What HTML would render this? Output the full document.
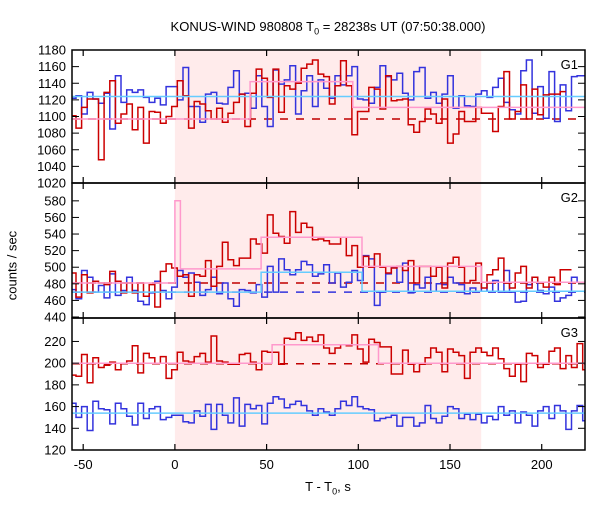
<!DOCTYPE html>
<html><head><meta charset="utf-8"><style>
body{margin:0;background:#fff}
svg{font-family:"Liberation Sans",sans-serif}
</style></head><body>
<svg id="c" width="600" height="500" xmlns="http://www.w3.org/2000/svg"></svg>
<script>
const xTicks=[-50,0,50,100,150,200];
const binStart=-57, binW=3.07;
const shade=[0,167];
const g1Red=[1101,1086,1111,1121,1121,1048,1129,1143,1092,1103,1115,1084,1111,1068,1106,1105,1092,1100,1112,1143,1125,1086,1118,1115,1107,1097,1110,1093,1104,1117,1127,1088,1128,1157,1146,1123,1157,1105,1137,1133,1140,1158,1163,1168,1151,1148,1115,1137,1167,1137,1078,1106,1106,1135,1133,1109,1149,1119,1120,1121,1090,1081,1094,1109,1103,1092,1121,1068,1079,1106,1094,1094,1111,1104,1104,1082,1112,1154,1097,1106,1138,1097,1133,1102,1126,1127,1127,1130];
const g1Blue=[1122,1125,1103,1129,1121,1116,1128,1085,1149,1117,1132,1129,1132,1123,1117,1122,1114,1136,1136,1120,1159,1112,1112,1093,1127,1129,1116,1115,1135,1155,1127,1128,1110,1149,1112,1088,1156,1139,1144,1161,1103,1131,1149,1112,1144,1134,1122,1149,1138,1149,1160,1121,1120,1116,1135,1161,1148,1144,1152,1128,1120,1154,1159,1122,1129,1116,1127,1149,1110,1125,1113,1112,1127,1131,1123,1135,1146,1117,1108,1103,1155,1168,1104,1136,1098,1154,1094,1138,1107,1148,1149,1149];
const g2Red=[493,464,491,469,483,481,479,495,483,469,481,469,481,465,479,452,495,504,499,489,491,465,491,489,508,477,501,530,509,502,511,511,534,528,517,563,541,537,529,567,542,553,548,533,534,532,528,528,536,514,526,500,513,500,516,500,493,499,501,496,508,481,501,501,489,500,475,505,512,500,481,484,505,475,491,497,511,481,475,493,501,475,488,482,476,488,479,497,497];
const g2Blue=[473,462,496,488,470,478,463,492,466,472,488,472,459,455,469,483,472,462,476,496,488,493,482,466,473,488,468,481,462,453,473,472,469,479,464,501,470,510,497,491,497,507,503,489,492,503,481,493,476,482,496,484,514,510,454,470,492,500,482,505,469,479,475,488,471,480,479,488,481,479,468,475,471,482,471,484,470,496,470,458,459,479,488,472,468,476,459,463,466,488,482];
const g3Red=[189,188,208,182,205,196,198,201,194,200,202,216,191,209,205,200,206,186,194,210,202,201,206,209,201,225,202,201,199,199,208,209,201,194,211,210,210,199,223,222,228,221,224,220,226,214,209,214,217,216,226,213,201,222,219,215,215,190,190,212,199,192,199,205,214,210,192,213,210,207,186,210,214,210,207,214,204,195,188,199,183,209,207,196,199,211,214,195,207,196,218,194,196];
const g3Blue=[163,150,160,138,165,158,157,144,163,158,151,143,163,149,158,160,148,150,152,152,146,145,156,151,162,139,162,152,145,168,142,162,158,161,144,163,169,167,159,162,165,161,156,152,158,155,152,158,165,161,169,160,158,157,147,149,150,152,142,150,150,142,145,161,149,145,151,160,158,149,153,148,153,145,151,148,160,152,156,145,155,152,142,156,160,149,161,156,139,156,161,147,149];
const g1Fit=[[-60,41,1097],[41,97,1142],[97,230,1111]];
const g2Fit=[[-60,0,481],[0,3,580],[3,47,498],[47,102,536],[102,167,501],[167,230,482]];
const g3Fit=[[-60,53,200],[53,111,217],[111,230,200]];
const g2Cyan=[[-60,47,470],[47,102,494],[102,230,471]];
const panels=[
 {name:"G1",top:50,bot:183,ymin:1020,ymax:1180,ticks:[1020,1040,1060,1080,1100,1120,1140,1160,1180],red:g1Red,blue:g1Blue,fit:g1Fit,dash:1097,cyan:[[-60,230,1124]],blueDash:null},
 {name:"G2",top:183,bot:318,ymin:438.8,ymax:601.5,ticks:[440,460,480,500,520,540,560,580],red:g2Red,blue:g2Blue,fit:g2Fit,dash:481,cyan:g2Cyan,blueDash:470},
 {name:"G3",top:318,bot:450,ymin:120,ymax:241.6,ticks:[120,140,160,180,200,220],red:g3Red,blue:g3Blue,fit:g3Fit,dash:199.5,cyan:[[-60,230,154]],blueDash:null}
];
const L=72,R=585,X0=-56.1,X1=223.6;
const sx=t=>L+(t-X0)/(X1-X0)*(R-L);
const svg=document.getElementById('c');
const NS="http://www.w3.org/2000/svg";
function mk(tag,attrs,parent){const e=document.createElementNS(NS,tag);for(const k in attrs)e.setAttribute(k,attrs[k]);(parent||svg).appendChild(e);return e;}
// clip
const defs=mk('defs',{});
const cp=mk('clipPath',{id:'pc'},defs);mk('rect',{x:L,y:50,width:R-L,height:400},cp);
const sh=mk('rect',{x:sx(shade[0]),y:50,width:sx(shade[1])-sx(shade[0]),height:400,fill:'#ffebeb'});


panels.forEach((p,pi)=>{
 const sy=v=>p.bot-(v-p.ymin)/(p.ymax-p.ymin)*(p.bot-p.top);
 const g=mk('g',{'clip-path':'url(#pc)'});
 
 
 function step(vals,color,nm){let d='';vals.forEach((v,i)=>{const x0=sx(binStart+i*binW),x1=sx(binStart+(i+1)*binW),y=sy(v);d+=(i?'L':'M')+x0.toFixed(1)+','+y.toFixed(1)+'L'+x1.toFixed(1)+','+y.toFixed(1);});const e=mk('path',{d,fill:'none',stroke:color,'stroke-width':1.5},g);}
 function segs(arr,color,nm){let d='';arr.forEach((s,i)=>{const y=sy(s[2]);d+=(i?'L':'M')+sx(s[0]).toFixed(1)+','+y.toFixed(1)+'L'+sx(s[1]).toFixed(1)+','+y.toFixed(1);});const e=mk('path',{d,fill:'none',stroke:color,'stroke-width':1.5},g);}
 const dl=mk('line',{x1:L,x2:R,y1:sy(p.dash),y2:sy(p.dash),stroke:'#c00000','stroke-width':1.5,'stroke-dasharray':'8,8'},g);
 
 if(p.blueDash!==null){const bl=mk('line',{x1:L,x2:R,y1:sy(p.blueDash),y2:sy(p.blueDash),stroke:'#3333dd','stroke-width':1.5,'stroke-dasharray':'8,8'},g);}
 step(p.blue,'#3333dd','blue-lightcurve');
 step(p.red,'#cc0000','red-lightcurve');
 segs(p.cyan,'#66ccff','blue-bayesian-blocks');
 segs(p.fit,'#ff99cc','red-bayesian-blocks');
 // frame
 const fr=mk('rect',{x:L,y:p.top,width:R-L,height:p.bot-p.top,fill:'none',stroke:'#000','stroke-width':1.5});
 
 p.ticks.forEach(v=>{const y=sy(v);mk('line',{x1:L,x2:L+7,y1:y,y2:y,stroke:'#000','stroke-width':1});mk('line',{x1:R-7,x2:R,y1:y,y2:y,stroke:'#000','stroke-width':1});
  const t=mk('text',{x:66,y:y+4.5,'text-anchor':'end','font-size':13});t.textContent=v;});
 xTicks.forEach(v=>{const x=sx(v);mk('line',{x1:x,x2:x,y1:p.top,y2:p.top+6,stroke:'#000','stroke-width':1.2});mk('line',{x1:x,x2:x,y1:p.bot-6,y2:p.bot,stroke:'#000','stroke-width':1.2});});
 const lab=mk('text',{x:578,y:p.top+19,'text-anchor':'end','font-size':13});lab.textContent=p.name;
});
xTicks.forEach(v=>{const t=mk('text',{x:sx(v),y:469,'text-anchor':'middle','font-size':13});t.textContent=v;});
</script>
<svg width="0" height="0"></svg>
<div style="position:absolute;left:0;top:0;width:600px;height:500px;pointer-events:none;font-family:'Liberation Sans',sans-serif;font-size:13px">
<div style="position:absolute;left:0;width:656px;top:19px;text-align:center">KONUS-WIND 980808 T<sub style="font-size:9px">0</sub> = 28238s UT (07:50:38.000)</div>
<div style="position:absolute;left:78px;width:500px;top:479px;text-align:center">T - T<sub style="font-size:9px">0</sub>, s</div>
<div style="position:absolute;left:-38px;top:258px;width:100px;text-align:center;transform:rotate(-90deg)">counts / sec</div>
</div>
</body></html>
